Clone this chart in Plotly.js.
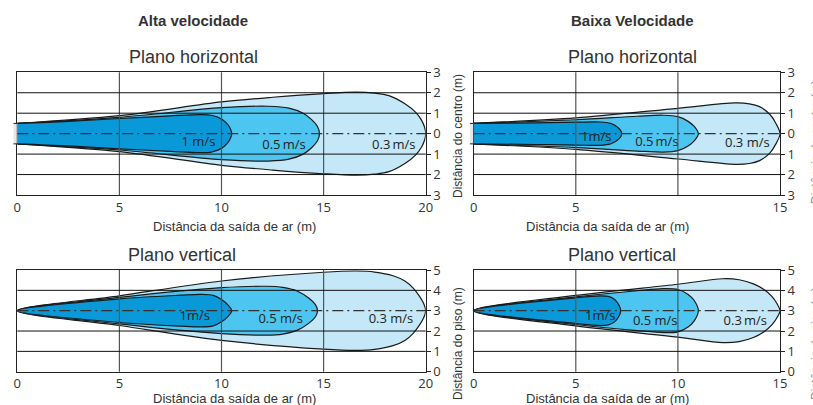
<!DOCTYPE html>
<html><head><meta charset="utf-8">
<script src="https://cdn.plot.ly/plotly-3.0.1.min.js"></script>
<style>html,body{margin:0;padding:0;background:#fff}#chart{width:813px;height:405px}</style>
</head><body><div id="chart"></div>
<script>
// ---------- DATA (upper outline of each velocity envelope: distance x, half-width d) ----------
// Alta velocidade - plano horizontal (centre = 0)
const altaH_x_03 = [0, 5, 10, 12.5, 15, 16.6, 17.5, 18.2, 19, 19.5, 19.8, 19.95, 20];
const altaH_d_03 = [0.5, 0.88, 1.55, 1.78, 1.96, 2.03, 1.98, 1.86, 1.45, 1.05, 0.65, 0.3, 0];
const altaH_x_05 = [0, 5, 10, 12.3, 13.3, 14, 14.4, 14.7, 14.8];
const altaH_d_05 = [0.5, 0.8, 1.27, 1.34, 1.25, 1.0, 0.7, 0.35, 0];
const altaH_x_1  = [0, 2.5, 5, 7.5, 9, 9.5, 10, 10.3, 10.45, 10.5];
const altaH_d_1  = [0.5, 0.6, 0.74, 0.87, 0.93, 0.9, 0.72, 0.45, 0.2, 0];

// Baixa velocidade - plano horizontal (centre = 0)
const baixaH_x_03 = [0, 5, 10, 12.8, 13.5, 14, 14.5, 14.8, 15];
const baixaH_d_03 = [0.5, 0.77, 1.24, 1.5, 1.46, 1.32, 0.95, 0.5, 0];
const baixaH_x_05 = [0, 5, 8, 9.3, 10, 10.5, 10.8, 11];
const baixaH_d_05 = [0.5, 0.68, 0.85, 0.9, 0.83, 0.6, 0.35, 0];
const baixaH_x_1  = [0, 3, 5, 6.2, 6.7, 7.0, 7.2, 7.25];
const baixaH_d_1  = [0.5, 0.53, 0.56, 0.57, 0.5, 0.35, 0.15, 0];

// Alta velocidade - plano vertical (centre = 3 m)
const altaV_x_03 = [0, 5, 10, 15, 16.6, 17.5, 18.4, 19, 19.4, 19.7, 19.9, 20];
const altaV_d_03 = [0, 0.73, 1.46, 1.89, 1.95, 1.9, 1.72, 1.45, 1.1, 0.7, 0.35, 0];
const altaV_x_05 = [0, 5, 10, 12.2, 13, 13.7, 14.3, 14.6, 14.7];
const altaV_d_05 = [0, 0.65, 1.13, 1.2, 1.15, 0.97, 0.6, 0.3, 0];
const altaV_x_1  = [0, 5, 8, 9, 9.6, 10, 10.3, 10.5];
const altaV_d_1  = [0, 0.58, 0.76, 0.8, 0.75, 0.55, 0.3, 0];

// Baixa velocidade - plano vertical (centre = 3 m)
const baixaV_x_03 = [0, 5, 10, 12.2, 13, 13.7, 14.2, 14.6, 14.85, 15];
const baixaV_d_03 = [0, 0.75, 1.3, 1.57, 1.52, 1.32, 1.05, 0.7, 0.35, 0];
const baixaV_x_05 = [0, 5, 8, 9.3, 10, 10.5, 10.8, 11];
const baixaV_d_05 = [0, 0.68, 0.98, 1.08, 1.04, 0.8, 0.5, 0];
const baixaV_x_1  = [0, 5, 6.2, 6.6, 6.9, 7.1, 7.2];
const baixaV_d_1  = [0, 0.63, 0.73, 0.7, 0.55, 0.3, 0];

// Velocity labels
const altaH_lbl_x = [8.87, 13.06, 18.44], altaH_lbl_y = [-0.43, -0.57, -0.57];
const altaH_lbl_t = ['1 m/s', '0.5\u2009m/s', '0.3\u2009m/s'];
const baixaH_lbl_x = [6.0, 8.97, 13.4], baixaH_lbl_y = [-0.2, -0.45, -0.47];
const baixaH_lbl_t = ['1m/s', '0.5\u2009m/s', '0.3 m/s'];
const altaV_lbl_x = [8.69, 12.9, 18.3], altaV_lbl_y = [2.69, 2.53, 2.53];
const altaV_lbl_t = ['1m/s', '0.5 m/s', '0.3 m/s'];
const baixaV_lbl_x = [6.2, 8.89, 13.3], baixaV_lbl_y = [2.69, 2.47, 2.47];
const baixaV_lbl_t = ['1m/s', '0.5 m/s', '0.3\u2009m/s'];

// Axis ticks
const xTicksAlta = [0, 5, 10, 15, 20];
const xTicksBaixa = [0, 5, 10, 15];
const xTickTextBaixa = ['0', '5', '', '15'];
const yTicksH = [-3, -2, -1, 0, 1, 2, 3];
const yTickTextH = ['3', '2', '1', '0', '1', '2', '3'];
const yTicksV = [0, 1, 2, 3, 4, 5];
const yTickTextV = ['0', '1', '2', '3', '4', '5'];

const centreH = 0, centreV = 3;
const nozzleHalf = 0.5;     // half-width of the horizontal-plane nozzle (m)
const nozzleDepth = [0, 1]; // nozzle drawn on its own unit axis just left of the origin

// ---------- BUILD ----------
const colors = {c03: '#c4e8f8', c05: '#4cc5f1', c1: '#0a99d8'};
const FONT = 'Liberation Sans, Arial, sans-serif';
const FONT2 = 'Open Sans, Noto Sans, sans-serif';
const traces = [];

function envelope(xs, ds, c, col, xa, ya) {
  const X = xs.concat(xs.slice(0, -1).reverse());
  const Y = ds.map(d => c + d).concat(ds.slice(0, -1).reverse().map(d => c - d));
  traces.push({type: 'scatter', mode: 'lines', x: X, y: Y, xaxis: xa, yaxis: ya,
    fill: 'toself', fillcolor: col, line: {color: '#1a1a1a', width: 1.2, shape: 'spline', smoothing: 0.9},
    hoverinfo: 'skip', showlegend: false});
}
function labels(xs, ys, ts, xa, ya) {
  traces.push({type: 'scatter', mode: 'text', x: xs, y: ys, text: ts, xaxis: xa, yaxis: ya,
    textfont: {family: FONT2, size: 13, color: '#222'}, textposition: 'middle center',
    hoverinfo: 'skip', showlegend: false});
}

envelope(altaH_x_03, altaH_d_03, centreH, colors.c03, 'x', 'y');
envelope(altaH_x_05, altaH_d_05, centreH, colors.c05, 'x', 'y');
envelope(altaH_x_1, altaH_d_1, centreH, colors.c1, 'x', 'y');
labels(altaH_lbl_x, altaH_lbl_y, altaH_lbl_t, 'x', 'y');

envelope(baixaH_x_03, baixaH_d_03, centreH, colors.c03, 'x2', 'y2');
envelope(baixaH_x_05, baixaH_d_05, centreH, colors.c05, 'x2', 'y2');
envelope(baixaH_x_1, baixaH_d_1, centreH, colors.c1, 'x2', 'y2');
labels(baixaH_lbl_x, baixaH_lbl_y, baixaH_lbl_t, 'x2', 'y2');

envelope(altaV_x_03, altaV_d_03, centreV, colors.c03, 'x3', 'y3');
envelope(altaV_x_05, altaV_d_05, centreV, colors.c05, 'x3', 'y3');
envelope(altaV_x_1, altaV_d_1, centreV, colors.c1, 'x3', 'y3');
labels(altaV_lbl_x, altaV_lbl_y, altaV_lbl_t, 'x3', 'y3');

envelope(baixaV_x_03, baixaV_d_03, centreV, colors.c03, 'x4', 'y4');
envelope(baixaV_x_05, baixaV_d_05, centreV, colors.c05, 'x4', 'y4');
envelope(baixaV_x_1, baixaV_d_1, centreV, colors.c1, 'x4', 'y4');
labels(baixaV_lbl_x, baixaV_lbl_y, baixaV_lbl_t, 'x4', 'y4');

// horizontal-plane nozzles on their own thin axes
function nozzleH(xa, ya) {
  traces.push({type: 'scatter', mode: 'lines', xaxis: xa, yaxis: ya,
    x: [nozzleDepth[0], nozzleDepth[1], nozzleDepth[1], nozzleDepth[0]],
    y: [centreH - nozzleHalf, centreH - nozzleHalf, centreH + nozzleHalf, centreH + nozzleHalf],
    fill: 'toself', fillcolor: '#e6e6e6', line: {color: '#222', width: 1}, hoverinfo: 'skip', showlegend: false});
}
function nozzleV(xa, ya) {
  traces.push({type: 'scatter', mode: 'markers', x: [-0.09], y: [centreV], xaxis: xa, yaxis: ya, cliponaxis: false,
    marker: {symbol: 'square', size: 4, color: '#eee', line: {color: '#333', width: 1}}, hoverinfo: 'skip', showlegend: false});
}
nozzleH('x5', 'y5'); nozzleH('x6', 'y6'); nozzleV('x3', 'y3'); nozzleV('x4', 'y4');

// grid lines above the envelopes (as shapes) + centre dash-dot line
const shapes = [];
function grid(xa, ya, xticks, yticks, centre) {
  xticks.slice(1, -1).forEach(v => shapes.push({type: 'line', xref: xa, yref: ya + ' domain', x0: v, x1: v, y0: 0, y1: 1,
    line: {color: '#555', width: 1.2}, layer: 'above'}));
  yticks.slice(1, -1).filter(v => v !== centre).forEach(v => shapes.push({type: 'line', xref: xa + ' domain', yref: ya, x0: 0, x1: 1, y0: v, y1: v,
    line: {color: '#111', width: 1}, layer: 'above'}));
  shapes.push({type: 'line', xref: xa + ' domain', yref: ya, x0: 0, x1: 1, y0: centre, y1: centre,
    line: {color: '#333', width: 1.2, dash: '11px,4px,2px,4px'}, layer: 'above'});
}
grid('x', 'y', xTicksAlta, yTicksH, centreH);
grid('x2', 'y2', xTicksBaixa, yTicksH, centreH);
grid('x3', 'y3', xTicksAlta, yTicksV, centreV);
grid('x4', 'y4', xTicksBaixa, yTicksV, centreV);

function xax(domain, ticks, text, range, anchor) {
  return {domain: domain, range: range, tickvals: ticks, ticktext: text, showgrid: false, zeroline: false,
    showline: true, mirror: true, linecolor: '#222', linewidth: 1, ticks: '', anchor: anchor,
    tickfont: {family: FONT2, size: 13, color: '#333'}, fixedrange: true};
}
function yax(domain, ticks, text, range, anchor) {
  return {domain: domain, range: range, tickvals: ticks, ticktext: text, showgrid: false, zeroline: false,
    showline: true, mirror: true, linecolor: '#222', linewidth: 1, ticks: 'outside', ticklen: 4, tickcolor: '#222',
    side: 'right', anchor: anchor, tickfont: {family: FONT2, size: 13, color: '#333'}, fixedrange: true};
}
function hidden(domain, range, anchor) {
  return {domain: domain, range: range, visible: false, anchor: anchor, fixedrange: true};
}
const dXL = [17.3 / 813, 425.7 / 813], dXR = [473.7 / 813, 780 / 813];
const dYT = [1 - 195 / 405, 1 - 72.3 / 405], dYB = [1 - 371.7 / 405, 1 - 270 / 405];
const dNL = [13.3 / 813, 17.3 / 813], dNR = [469.7 / 813, 473.7 / 813];

function ann(text, x, y, size, opts) {
  return Object.assign({text: text, x: x / 813, y: 1 - y / 405, xref: 'paper', yref: 'paper', showarrow: false,
    xanchor: 'center', yanchor: 'middle', font: {family: FONT, size: size, color: '#333'}}, opts || {});
}
const annotations = [
  ann('<b>Alta velocidade</b>', 193, 21, 15),
  ann('<b>Baixa Velocidade</b>', 632.5, 21, 15),
  ann('Plano horizontal', 193, 57, 18),
  ann('Plano horizontal', 632, 57, 18),
  ann('Plano vertical', 182, 255, 18),
  ann('Plano vertical', 622, 255, 18),
  ann('Distância da saída de ar (m)', 234, 226, 13),
  ann('Distância da saída de ar (m)', 607, 226, 13),
  ann('Distância da saída de ar (m)', 234, 398.5, 13),
  ann('Distância da saída de ar (m)', 607, 398.5, 13),
  ann('Distância do centro (m)', 458, 136, 12, {textangle: -90}),
  ann('Distância do piso (m)', 458, 344, 12, {textangle: -90}),
  ann('Distância do centro (m)', 816, 142, 12, {textangle: -90, font: {family: FONT, size: 12, color: '#888'}}),
  ann('Distância do piso (m)', 816, 344, 12, {textangle: -90, font: {family: FONT, size: 12, color: '#888'}})
];

const layout = {
  width: 813, height: 405, margin: {l: 0, r: 0, t: 0, b: 0},
  paper_bgcolor: '#fff', plot_bgcolor: 'rgba(0,0,0,0)', showlegend: false,
  xaxis: xax(dXL, xTicksAlta, null, [0, 20], 'y'),
  yaxis: yax(dYT, yTicksH, yTickTextH, [-3, 3], 'x'),
  xaxis2: xax(dXR, xTicksBaixa, xTickTextBaixa, [0, 15], 'y2'),
  yaxis2: yax(dYT, yTicksH, yTickTextH, [-3, 3], 'x2'),
  xaxis3: xax(dXL, xTicksAlta, null, [0, 20], 'y3'),
  yaxis3: yax(dYB, yTicksV, yTickTextV, [0, 5], 'x3'),
  xaxis4: xax(dXR, xTicksBaixa, null, [0, 15], 'y4'),
  yaxis4: yax(dYB, yTicksV, yTickTextV, [0, 5], 'x4'),
  xaxis5: hidden(dNL, nozzleDepth, 'y5'),
  yaxis5: hidden(dYT, [-3, 3], 'x5'),
  xaxis6: hidden(dNR, nozzleDepth, 'y6'),
  yaxis6: hidden(dYT, [-3, 3], 'x6'),
  shapes: shapes, annotations: annotations
};
Plotly.newPlot('chart', traces, layout, {staticPlot: true, displayModeBar: false});
</script></body></html>
